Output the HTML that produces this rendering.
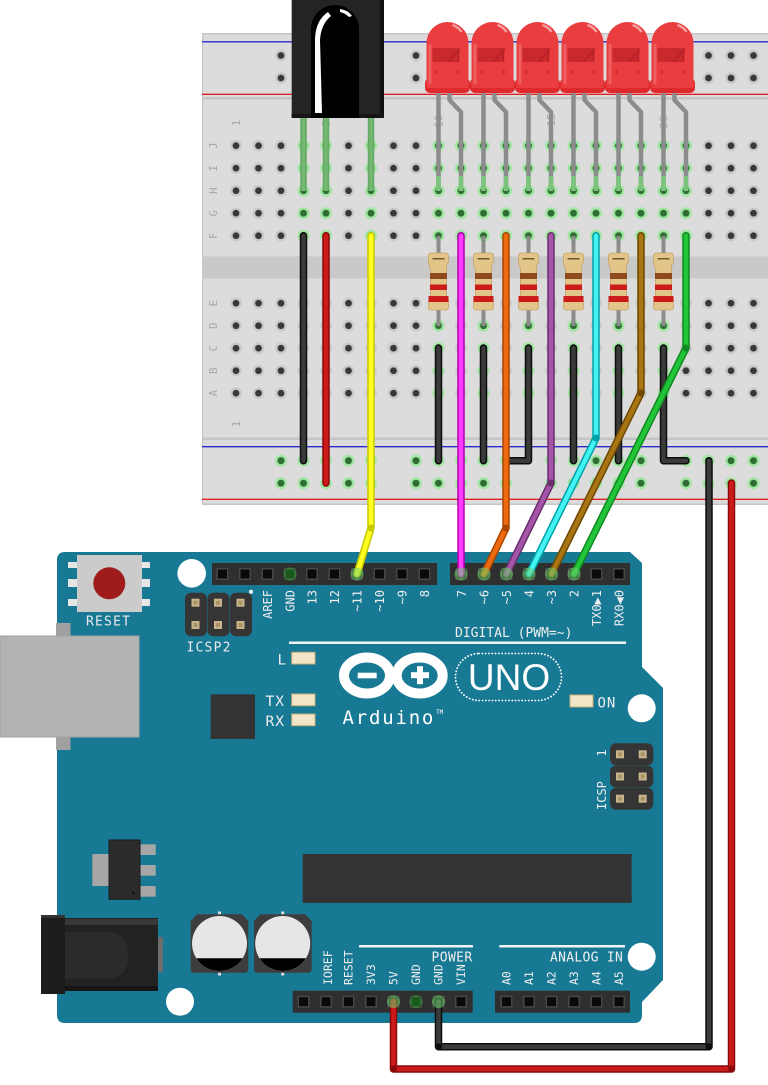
<!DOCTYPE html>
<html><head><meta charset="utf-8"><style>
html,body{margin:0;padding:0;background:#fff;}
svg{display:block;}
text{font-family:"DejaVu Sans Mono","Liberation Mono",monospace;}
</style></head><body>
<svg width="768" height="1085" viewBox="0 0 768 1085" xmlns="http://www.w3.org/2000/svg">
<defs>
<pattern id="ph" x="224.75" y="134.45" width="22.5" height="22.5" patternUnits="userSpaceOnUse">
 <circle cx="11.25" cy="11.25" r="5.8" fill="#c9c9c9"/>
 <circle cx="11.25" cy="11.25" r="3.4" fill="#383838"/>
</pattern>
<pattern id="pg" x="224.75" y="134.45" width="22.5" height="22.5" patternUnits="userSpaceOnUse">
 <circle cx="11.25" cy="11.25" r="6" fill="#a3e6a3"/>
 <circle cx="11.25" cy="11.25" r="3.5" fill="#2f6e32"/>
</pattern>
<pattern id="pg2" x="427.25" y="134.45" width="45" height="22.5" patternUnits="userSpaceOnUse">
 <circle cx="11.25" cy="11.25" r="6" fill="#a3e6a3"/>
 <circle cx="11.25" cy="11.25" r="3.5" fill="#2f6e32"/>
</pattern>
<pattern id="pr" x="269.75" y="44.25" width="135" height="22.5" patternUnits="userSpaceOnUse">
 <g fill="#c9c9c9"><circle cx="11.25" cy="11.25" r="5.8"/><circle cx="33.75" cy="11.25" r="5.8"/><circle cx="56.25" cy="11.25" r="5.8"/><circle cx="78.75" cy="11.25" r="5.8"/><circle cx="101.25" cy="11.25" r="5.8"/></g>
 <g fill="#383838"><circle cx="11.25" cy="11.25" r="3.4"/><circle cx="33.75" cy="11.25" r="3.4"/><circle cx="56.25" cy="11.25" r="3.4"/><circle cx="78.75" cy="11.25" r="3.4"/><circle cx="101.25" cy="11.25" r="3.4"/></g>
</pattern>
<pattern id="prg" x="269.75" y="449.45" width="135" height="22.5" patternUnits="userSpaceOnUse">
 <g fill="#a3e6a3"><circle cx="11.25" cy="11.25" r="6"/><circle cx="33.75" cy="11.25" r="6"/><circle cx="56.25" cy="11.25" r="6"/><circle cx="78.75" cy="11.25" r="6"/><circle cx="101.25" cy="11.25" r="6"/></g>
 <g fill="#2f6e32"><circle cx="11.25" cy="11.25" r="3.5"/><circle cx="33.75" cy="11.25" r="3.5"/><circle cx="56.25" cy="11.25" r="3.5"/><circle cx="78.75" cy="11.25" r="3.5"/><circle cx="101.25" cy="11.25" r="3.5"/></g>
</pattern>
<g id="led">
 <path d="M0 90 V191" stroke="#8c8c8c" stroke-width="4.5" fill="none"/>
 <path d="M11 90 V100 L22.5 112 V191" stroke="#8c8c8c" stroke-width="4.5" fill="none" stroke-linejoin="round"/>
 <path d="M0 176 V191 M22.5 176 V191" stroke="#7cc47c" stroke-width="4.5"/>
 <rect x="-13.5" y="78" width="45" height="15" rx="5" fill="#de2a2c"/>
 <path d="M-12 88 V43 A21 21 0 0 1 30 43 V88 Z" fill="#ea3d40"/>
 <path d="M-6 48 H22 L19 62 H-6 Z" fill="#c9292d"/>
 <path d="M10 62 L20 50 M20 50 V62" stroke="#b52226" stroke-width="1.5" fill="none"/>
 <path d="M-8.5 84 V44" stroke="#f26e70" stroke-width="3" opacity="0.7"/>
 <path d="M14 25 Q20 27 23 32" stroke="#f7a0a0" stroke-width="2.5" fill="none"/>
 <circle cx="-2" cy="72" r="2.2" fill="#d63236"/><circle cx="20" cy="72" r="2.2" fill="#d63236"/>
</g>
<g id="res">
 <path d="M0 236 V326" stroke="#8c8c8c" stroke-width="4"/>
 <path d="M-10 256 Q-10 253 -7 253 H7 Q10 253 10 256 V262 Q8 265 8 268 V296 Q10 299 10 302 V307 Q10 310 7 310 H-7 Q-10 310 -10 307 V302 Q-8 299 -8 296 V268 Q-10 265 -10 262 Z" fill="#e3c58a" stroke="#c4a46a" stroke-width="0.8"/>
 <rect x="-6" y="258" width="12" height="1.5" fill="#6b5a30"/>
 <rect x="-8.5" y="273" width="17" height="6" fill="#8e4a1f"/>
 <rect x="-8.5" y="284.5" width="17" height="5.5" fill="#cc1b1b"/>
 <rect x="-10" y="296" width="20" height="6" fill="#cc1b1b"/>
</g>
<g id="pin"><rect x="-6" y="-6" width="12" height="12" fill="#474747"/><rect x="-4.5" y="-4.5" width="9" height="9" fill="#0a0a0a"/></g>
<g id="pad"><rect x="-4" y="-4" width="8" height="8" fill="#c9b58b"/><rect x="-2" y="-2" width="4" height="4" fill="#a89468"/></g>
</defs>

<!-- Breadboard -->
<rect x="202" y="33" width="570" height="472" fill="#dcdcdc"/>
<rect x="202" y="33" width="570" height="1.5" fill="#c6c6c6"/>
<rect x="202" y="33" width="1.2" height="472" fill="#c6c6c6"/>
<rect x="202" y="97" width="570" height="2.5" fill="#c4c4c4"/>
<rect x="202" y="256.5" width="570" height="22" fill="#c9c9c9"/>
<rect x="202" y="437.5" width="570" height="2.5" fill="#c4c4c4"/>
<rect x="202" y="503.5" width="570" height="1.5" fill="#c6c6c6"/>
<line x1="202" y1="41.8" x2="768" y2="41.8" stroke="#2a2ad0" stroke-width="1.3"/>
<line x1="202" y1="94.3" x2="768" y2="94.3" stroke="#e02020" stroke-width="1.3"/>
<line x1="202" y1="446.7" x2="768" y2="446.7" stroke="#2a2ad0" stroke-width="1.3"/>
<line x1="202" y1="499.3" x2="768" y2="499.3" stroke="#e02020" stroke-width="1.3"/>

<rect x="224.75" y="134.45" width="545" height="112.5" fill="url(#ph)"/>
<rect x="224.75" y="291.95" width="545" height="112.5" fill="url(#ph)"/>
<rect x="292.25" y="134.45" width="45" height="112.5" fill="url(#pg)"/>
<rect x="359.75" y="134.45" width="22.5" height="112.5" fill="url(#pg)"/>
<rect x="427.25" y="134.45" width="270" height="112.5" fill="url(#pg)"/>
<rect x="427.25" y="291.95" width="247.5" height="112.5" fill="url(#pg2)"/>
<rect x="269.75" y="44.25" width="500" height="45" fill="url(#pr)"/>
<rect x="269.75" y="449.45" width="500" height="45" fill="url(#prg)"/>

<g fill="#a8a8a8" font-size="11" text-anchor="middle">
 <text transform="translate(217,145.7) rotate(-90)">J</text>
 <text transform="translate(217,168.2) rotate(-90)">I</text>
 <text transform="translate(217,190.7) rotate(-90)">H</text>
 <text transform="translate(217,213.2) rotate(-90)">G</text>
 <text transform="translate(217,235.7) rotate(-90)">F</text>
 <text transform="translate(217,303.2) rotate(-90)">E</text>
 <text transform="translate(217,325.7) rotate(-90)">D</text>
 <text transform="translate(217,348.2) rotate(-90)">C</text>
 <text transform="translate(217,370.7) rotate(-90)">B</text>
 <text transform="translate(217,393.2) rotate(-90)">A</text>
 <text transform="translate(240,123) rotate(-90)">1</text>
 <text transform="translate(240,424) rotate(-90)">1</text>
 <text transform="translate(330,123) rotate(-90)">5</text>
 <text transform="translate(442.5,121) rotate(-90)">10</text>
 <text transform="translate(555,120) rotate(-90)">15</text>
 <text transform="translate(667.5,122) rotate(-90)">20</text>
</g>

<!-- Resistors -->
<use href="#res" x="438.5"/><use href="#res" x="483.5"/><use href="#res" x="528.5"/>
<use href="#res" x="573.5"/><use href="#res" x="618.5"/><use href="#res" x="663.5"/>

<!-- LEDs -->
<use href="#led" x="438.5"/><use href="#led" x="483.5"/><use href="#led" x="528.5"/>
<use href="#led" x="573.5"/><use href="#led" x="618.5"/><use href="#led" x="663.5"/>

<!-- IR sensor -->
<path d="M303.5 115 V191 M326 115 V191 M371 115 V191" stroke="#66aa66" stroke-width="6.5"/>
<path d="M303.5 115 V191 M326 115 V191 M371 115 V191" stroke="#74b874" stroke-width="3"/>
<rect x="291.7" y="-2" width="92.3" height="120" fill="#242424"/>
<rect x="380" y="-2" width="4" height="120" fill="#111"/>
<rect x="291.7" y="114" width="92.3" height="4" fill="#151515"/>
<path d="M311 118 V29 A24 24 0 0 1 359 29 V118 Z" fill="#000"/>
<path d="M315 113 L322 113 L320 40 Q321 24 331 16 L328 12 Q316 20 315 38 Z" fill="#fff"/>
<path d="M340 9 Q348 10 352 16 L349 17 Q345 13 340 12 Z" fill="#fff"/>

<!-- Arduino board -->
<path d="M65 552 H630 L642 563 V667 L663 688 V980 L642 1002 V1015 Q642 1023 634 1023 H65 Q57 1023 57 1015 V560 Q57 552 65 552 Z" fill="#187995"/>

<!-- USB -->
<rect x="56" y="623" width="14.5" height="14" fill="#a0a0a0"/>
<rect x="56" y="736" width="14.5" height="14" fill="#a0a0a0"/>
<rect x="0" y="636" width="139" height="101" fill="#b3b3b3" stroke="#a2a2a2" stroke-width="1"/>

<!-- Reset -->
<g fill="#e6e6e6">
 <rect x="68" y="562" width="10" height="6"/><rect x="68" y="579" width="10" height="8"/><rect x="68" y="599" width="10" height="7"/>
 <rect x="141" y="562" width="9" height="6"/><rect x="141" y="579" width="9" height="8"/><rect x="141" y="599" width="9" height="7"/>
</g>
<rect x="77" y="555" width="65" height="57" fill="#cbcbcb"/>
<circle cx="109.3" cy="583.3" r="16" fill="#a01c1c"/>
<text x="86" y="625.5" font-size="13" letter-spacing="1.2" fill="#eaeaea">RESET</text>

<!-- mount holes -->
<circle cx="191.7" cy="573.3" r="14.3" fill="#fff"/>
<circle cx="641.7" cy="708.3" r="14" fill="#fff"/>
<circle cx="180" cy="1001.7" r="14" fill="#fff"/>
<circle cx="641.7" cy="956.7" r="14" fill="#fff"/>

<!-- ICSP2 -->
<g fill="#353535">
 <rect x="185" y="592.7" width="22" height="43.5" rx="6"/>
 <rect x="207.5" y="592.7" width="22" height="43.5" rx="6"/>
 <rect x="230" y="592.7" width="22" height="43.5" rx="6"/>
</g>
<use href="#pad" x="195.5" y="602.7"/><use href="#pad" x="218" y="602.7"/><use href="#pad" x="240.5" y="602.7"/>
<use href="#pad" x="195.5" y="625"/><use href="#pad" x="218" y="625"/><use href="#pad" x="240.5" y="625"/>
<circle cx="251" cy="591.7" r="2" fill="#fff"/>
<text x="186.5" y="651.5" font-size="13" letter-spacing="1.2" fill="#eaeaea">ICSP2</text>

<!-- Top headers -->
<rect x="212" y="563" width="225" height="22" fill="#2f2f2f"/>
<rect x="450" y="563" width="180" height="22" fill="#2f2f2f"/>
<g transform="translate(0,574)">
 <use href="#pin" x="222.5"/><use href="#pin" x="245"/><use href="#pin" x="267.5"/><use href="#pin" x="290"/>
 <use href="#pin" x="312"/><use href="#pin" x="334.5"/><use href="#pin" x="357"/><use href="#pin" x="379.5"/>
 <use href="#pin" x="402"/><use href="#pin" x="424.5"/>
 <use href="#pin" x="461.5"/><use href="#pin" x="484"/><use href="#pin" x="506.5"/><use href="#pin" x="529"/>
 <use href="#pin" x="551.5"/><use href="#pin" x="574"/><use href="#pin" x="596.5"/><use href="#pin" x="619"/>
</g>
<circle cx="290" cy="574" r="6.5" fill="#3d9a3d" opacity="0.6"/>
<rect x="285.5" y="569.5" width="9" height="9" fill="#1b5a1e"/>
<g fill="#eeeeee" font-size="12" text-anchor="end">
 <text transform="translate(272,590) rotate(-90)">AREF</text>
 <text transform="translate(294.5,590) rotate(-90)">GND</text>
 <text transform="translate(316.5,590) rotate(-90)">13</text>
 <text transform="translate(339,590) rotate(-90)">12</text>
 <text transform="translate(361.5,590) rotate(-90)">~11</text>
 <text transform="translate(384,590) rotate(-90)">~10</text>
 <text transform="translate(406.5,590) rotate(-90)">~9</text>
 <text transform="translate(429,590) rotate(-90)">8</text>
 <text transform="translate(466,590) rotate(-90)">7</text>
 <text transform="translate(488.5,590) rotate(-90)">~6</text>
 <text transform="translate(511,590) rotate(-90)">~5</text>
 <text transform="translate(533.5,590) rotate(-90)">4</text>
 <text transform="translate(556,590) rotate(-90)">~3</text>
 <text transform="translate(578.5,590) rotate(-90)">2</text>
 <text transform="translate(601,590) rotate(-90)">TX0▶1</text>
 <text transform="translate(623.5,590) rotate(-90)">RX0◀0</text>
</g>
<text x="455" y="637" font-size="13" fill="#eeeeee">DIGITAL (PWM=~)</text>
<rect x="289" y="641.5" width="337" height="2.5" fill="#f2f2f2"/>

<!-- small LEDs -->
<g fill="#f3e6c8" stroke="#c9ad78" stroke-width="1">
 <rect x="291.7" y="652.3" width="23.3" height="11.7"/>
 <rect x="291.7" y="694" width="23.3" height="11.7"/>
 <rect x="291.7" y="714" width="23.3" height="11.7"/>
 <rect x="570" y="695" width="23" height="12"/>
</g>
<g fill="#eeeeee" font-size="14.5">
 <text x="277.5" y="664.5">L</text>
 <text x="265.5" y="706" letter-spacing="1">TX</text>
 <text x="265.5" y="726" letter-spacing="1">RX</text>
 <text x="597.5" y="707.5" font-size="14" letter-spacing="1">ON</text>
</g>

<!-- chip -->
<rect x="210.7" y="694.3" width="44.3" height="44.7" fill="#333"/>

<!-- Logo -->
<ellipse cx="367" cy="675.5" rx="23" ry="18" fill="none" stroke="#fff" stroke-width="10"/>
<ellipse cx="419.7" cy="675.5" rx="23" ry="18" fill="none" stroke="#fff" stroke-width="10"/>
<rect x="357.7" y="672.7" width="19" height="5.6" fill="#fff"/>
<rect x="411" y="672.2" width="18" height="6" fill="#fff"/>
<rect x="417" y="666.2" width="6" height="18" fill="#fff"/>
<text x="342.5" y="724" font-size="19" letter-spacing="1.8" fill="#fff">Arduino</text>
<text x="436" y="714" font-size="6" fill="#fff">TM</text>
<rect x="455.5" y="653.5" width="106" height="47" rx="23.5" fill="none" stroke="#fff" stroke-width="1.8" stroke-dasharray="0.1 3.2" stroke-linecap="round"/>
<text x="509" y="690" font-size="37" text-anchor="middle" fill="#fff" style="font-family:'Liberation Sans',sans-serif">UNO</text>

<!-- ICSP right -->
<g fill="#353535">
 <rect x="610" y="743.3" width="43.3" height="22" rx="6"/>
 <rect x="610" y="765.5" width="43.3" height="22" rx="6"/>
 <rect x="610" y="787.7" width="43.3" height="22" rx="6"/>
</g>
<use href="#pad" x="620" y="754.3"/><use href="#pad" x="642.7" y="754.3"/>
<use href="#pad" x="620" y="776.5"/><use href="#pad" x="642.7" y="776.5"/>
<use href="#pad" x="620" y="798.7"/><use href="#pad" x="642.7" y="798.7"/>
<g fill="#eeeeee" font-size="12">
 <text transform="translate(606,753) rotate(-90)" text-anchor="middle">1</text>
 <text transform="translate(606,810) rotate(-90)">ICSP</text>
</g>

<!-- large chip -->
<rect x="302.7" y="854" width="329" height="49" fill="#333"/>

<!-- regulator -->
<rect x="92.3" y="854" width="17" height="32" fill="#a6a6a6"/>
<rect x="139" y="844.3" width="16.7" height="10.7" fill="#a6a6a6"/>
<rect x="139" y="865" width="16.7" height="10.7" fill="#a6a6a6"/>
<rect x="139" y="886" width="16.7" height="10.7" fill="#a6a6a6"/>
<rect x="109" y="840" width="31" height="59.3" fill="#2b2b2b" stroke="#1c1c1c" stroke-width="1"/>
<circle cx="133.3" cy="893" r="1.5" fill="#111"/>

<!-- power jack -->
<rect x="158" y="937" width="5" height="35" fill="#6d6d6d"/>
<rect x="65" y="918" width="93" height="73" fill="#222"/>
<rect x="65" y="919" width="93" height="6" fill="#383838"/>
<path d="M65 931.7 H105 Q128.3 931.7 128.3 955.5 Q128.3 979.3 105 979.3 H65 Z" fill="#2b2b2b"/>
<rect x="65" y="986" width="93" height="5" fill="#151515"/>
<rect x="41" y="915" width="24" height="79" fill="#1d1d1d"/>
<rect x="41" y="915" width="24" height="3" fill="#333"/>

<!-- capacitors -->
<g>
 <rect x="218" y="911.5" width="3" height="3" fill="#ddd"/><rect x="218" y="972.5" width="3" height="3" fill="#ddd"/>
 <path d="M197 914.3 H242 L248.3 921 V969 Q248.3 972.7 245 972.7 H194 Q190.7 972.7 190.7 969 V921 Z" fill="#3d3d3d"/>
 <circle cx="219.5" cy="943.5" r="27.5" fill="#e6e6e6"/>
 <path d="M196.3 958.3 H242.7 A27.5 27.5 0 0 1 196.3 958.3 Z" fill="#000"/>
</g>
<g>
 <rect x="281.2" y="911.5" width="3" height="3" fill="#ddd"/><rect x="281.2" y="972.5" width="3" height="3" fill="#ddd"/>
 <path d="M260.3 914.3 H305.3 L311.7 921 V969 Q311.7 972.7 308.3 972.7 H257.3 Q254 972.7 254 969 V921 Z" fill="#3d3d3d"/>
 <circle cx="282.7" cy="943.5" r="27.5" fill="#e6e6e6"/>
 <path d="M259.5 958.3 H305.9 A27.5 27.5 0 0 1 259.5 958.3 Z" fill="#000"/>
</g>

<!-- bottom headers -->
<rect x="292.7" y="990.7" width="180" height="22" fill="#2f2f2f"/>
<rect x="495" y="990.7" width="135" height="22" fill="#2f2f2f"/>
<g transform="translate(0,1001.7)">
 <use href="#pin" x="303.5"/><use href="#pin" x="326"/><use href="#pin" x="348.5"/><use href="#pin" x="371"/>
 <use href="#pin" x="393.5"/><use href="#pin" x="416"/><use href="#pin" x="438.5"/><use href="#pin" x="461"/>
 <use href="#pin" x="506.5"/><use href="#pin" x="529"/><use href="#pin" x="551.5"/><use href="#pin" x="574"/>
 <use href="#pin" x="596.5"/><use href="#pin" x="619"/>
</g>
<circle cx="416" cy="1001.7" r="6.5" fill="#3d9a3d" opacity="0.6"/>
<rect x="411.5" y="997.2" width="9" height="9" fill="#1b5a1e"/>
<g fill="#eeeeee" font-size="11.5">
 <text transform="translate(332,985) rotate(-90)">IOREF</text>
 <text transform="translate(352.5,985) rotate(-90)">RESET</text>
 <text transform="translate(375,985) rotate(-90)">3V3</text>
 <text transform="translate(397.5,985) rotate(-90)">5V</text>
 <text transform="translate(420,985) rotate(-90)">GND</text>
 <text transform="translate(442.5,985) rotate(-90)">GND</text>
 <text transform="translate(465,985) rotate(-90)">VIN</text>
 <text transform="translate(510.5,985) rotate(-90)">A0</text>
 <text transform="translate(533,985) rotate(-90)">A1</text>
 <text transform="translate(555.5,985) rotate(-90)">A2</text>
 <text transform="translate(578,985) rotate(-90)">A3</text>
 <text transform="translate(600.5,985) rotate(-90)">A4</text>
 <text transform="translate(623,985) rotate(-90)">A5</text>
</g>
<text x="431.5" y="961.5" font-size="13" letter-spacing="0.4" fill="#eeeeee">POWER</text>
<text x="550" y="961.5" font-size="13" letter-spacing="0.3" fill="#eeeeee">ANALOG IN</text>
<rect x="359" y="945" width="114" height="2.5" fill="#f2f2f2"/>
<rect x="499.3" y="945" width="125.7" height="2.5" fill="#f2f2f2"/>

<!-- Wires -->
<g fill="none" stroke-linecap="round" stroke-linejoin="round">
 <!-- black short wires -->
 <path d="M438.5 348 V460.7 M483.5 348 V460.7 M528.5 348 V460.7 H506.5 M573.5 348 V460.7 M618.5 348 V460.7 M663.5 348 V460.7 H686 M303.5 235.7 V460.7 M709 460.7 V1046.7 H438.5 V1001.7" stroke="#0d0d0d" stroke-width="7.5"/>
 <path d="M438.5 348 V460.7 M483.5 348 V460.7 M528.5 348 V460.7 H506.5 M573.5 348 V460.7 M618.5 348 V460.7 M663.5 348 V460.7 H686 M303.5 235.7 V460.7 M709 460.7 V1046.7 H438.5 V1001.7" stroke="#3a3a3a" stroke-width="4.5"/>
 <!-- red -->
 <path d="M326 235.7 V483 M731.5 483 V1069 H393.5 V1001.7" stroke="#8a0a0a" stroke-width="7.5"/>
 <path d="M326 235.7 V483 M731.5 483 V1069 H393.5 V1001.7" stroke="#cc1a1a" stroke-width="4.5"/>
 <!-- yellow -->
 <path d="M371 235.7 V528 L357 574" stroke="#c9c900" stroke-width="7.5"/>
 <path d="M371 235.7 V528 L357 574" stroke="#ffff22" stroke-width="4.5"/>
 <!-- magenta -->
 <path d="M461 235.7 V574" stroke="#b000b0" stroke-width="7.5"/>
 <path d="M461 235.7 V574" stroke="#ff3cff" stroke-width="4.5"/>
 <!-- orange -->
 <path d="M506 235.7 V528 L484 574" stroke="#a84600" stroke-width="7.5"/>
 <path d="M506 235.7 V528 L484 574" stroke="#ee6a10" stroke-width="4.5"/>
 <!-- purple -->
 <path d="M551 235.7 V483 L506.5 574" stroke="#6a2e6e" stroke-width="7.5"/>
 <path d="M551 235.7 V483 L506.5 574" stroke="#a555a8" stroke-width="4.5"/>
 <!-- cyan -->
 <path d="M596 235.7 V438 L529 574" stroke="#00a2aa" stroke-width="7.5"/>
 <path d="M596 235.7 V438 L529 574" stroke="#44f2f2" stroke-width="4.5"/>
 <!-- brown -->
 <path d="M641 235.7 V393 L551.5 574" stroke="#6e4800" stroke-width="7.5"/>
 <path d="M641 235.7 V393 L551.5 574" stroke="#a87512" stroke-width="4.5"/>
 <!-- green -->
 <path d="M686 235.7 V348 L574 574" stroke="#0f8a1e" stroke-width="7.5"/>
 <path d="M686 235.7 V348 L574 574" stroke="#22c43a" stroke-width="4.5"/>
</g>
<!-- bend dots -->
<g>
 <circle cx="371" cy="528" r="3.5" fill="#c9c900"/>
 <circle cx="506" cy="528" r="3.5" fill="#a84600"/>
 <circle cx="551" cy="483" r="3.5" fill="#6a2e6e"/>
 <circle cx="596" cy="438" r="3.5" fill="#00a2aa"/>
 <circle cx="641" cy="393" r="3.5" fill="#6e4800"/>
 <circle cx="686" cy="348" r="3.5" fill="#0f8a1e"/>
 <circle cx="709" cy="1046.7" r="3.5" fill="#0d0d0d"/>
 <circle cx="438.5" cy="1046.7" r="3.5" fill="#0d0d0d"/>
 <circle cx="731.5" cy="1069" r="3.5" fill="#8a0a0a"/>
 <circle cx="393.5" cy="1069" r="3.5" fill="#8a0a0a"/>
</g>
<!-- pin connection rings -->
<g fill="#6fd46f" opacity="0.55">
 <circle cx="357" cy="574" r="6.5"/><circle cx="461" cy="574" r="6.5"/><circle cx="484" cy="574" r="6.5"/>
 <circle cx="506.5" cy="574" r="6.5"/><circle cx="529" cy="574" r="6.5"/><circle cx="551.5" cy="574" r="6.5"/>
 <circle cx="574" cy="574" r="6.5"/><circle cx="393.5" cy="1001.7" r="6.5"/><circle cx="438.5" cy="1001.7" r="6.5"/>
</g>
</svg>
</body></html>
